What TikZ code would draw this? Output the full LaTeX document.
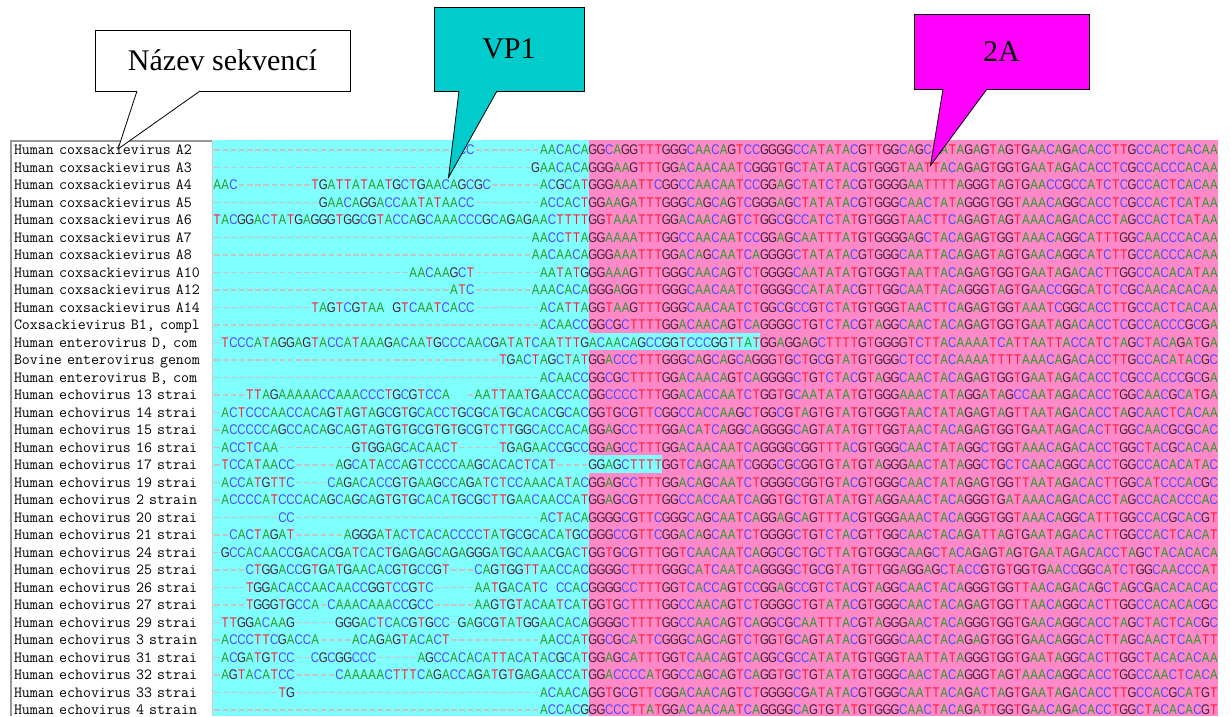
\documentclass[tikz,border=0pt]{standalone}
\usepackage{fontspec}
\usepackage{xcolor}
\usetikzlibrary{matrix}
\setmainfont{Liberation Serif}
\newfontfamily\namefont{Latin Modern Mono}
\newfontfamily\basefont[FakeStretch=0.82]{Liberation Sans}

\definecolor{baseA}{RGB}{40,155,40}
\definecolor{baseC}{RGB}{80,70,255}
\definecolor{baseG}{RGB}{65,30,55}
\definecolor{baseT}{RGB}{255,25,50}
\definecolor{gapgray}{RGB}{200,195,195}
\definecolor{vpback}{RGB}{128,255,255}
\definecolor{twoaback}{RGB}{255,136,200}
\definecolor{vpcall}{RGB}{0,204,204}
\definecolor{twoacall}{RGB}{255,0,255}
\definecolor{panelgray}{RGB}{150,150,150}

\newlength\cellw
\setlength\cellw{8.17pt}

\ExplSyntaxOn
\cs_new_protected:Npn \aln_cell:n #1
  {
    \makebox[\cellw][c]
      {
        \str_case:nnF {#1}
          {
            {A}{\textcolor{baseA}{A}}
            {C}{\textcolor{baseC}{C}}
            {G}{\textcolor{baseG}{G}}
            {T}{\textcolor{baseT}{T}}
            {-}{\textcolor{gapgray}{\rule[4.2pt]{5.5pt}{1.1pt}}}
          }
          {}
      }
  }
\NewDocumentCommand\alnrow{m}
  { \str_map_inline:nn {#1} { \aln_cell:n {##1} } }
\ExplSyntaxOff

\begin{document}
\begin{tikzpicture}[x=1pt, y=-1pt,
  callbox/.style={draw, line width=0.8pt, inner sep=0pt, outer sep=0pt, font=\fontsize{30}{30}\selectfont},
  pointer/.style={line width=0.8pt}]
\useasboundingbox (0,0) rectangle (1231,716);

% background of the alignment window
\fill[vpback] (213,140) rectangle (588.8,716);
\fill[twoaback] (588.8,140) rectangle (1218,716);
\fill[vpback] (588.8,332.75) rectangle +(171.6,17.5);
\fill[vpback] (588.8,455.25) rectangle +(73.5,17.5);
\draw[panelgray, line width=2pt] (11,716) -- (11,141) -- (212,141);
\draw[panelgray!50] (212,141) -- (212,716);

\matrix (aln) [matrix of nodes, anchor=north west, inner sep=0pt, outer sep=0pt,
  row sep=0pt, column sep=0pt,
  nodes={inner sep=0pt, outer sep=0pt, minimum height=17.5pt, text height=11.4pt, text depth=0pt},
  column 1/.style={nodes={anchor=west, text width=199pt, align=left, font=\namefont\fontsize{15.5}{16}\selectfont}},
  column 2/.style={nodes={anchor=east, font=\basefont\fontsize{14}{15}\selectfont}},
  column 3/.style={nodes={anchor=west, font=\basefont\fontsize{14}{15}\selectfont}}]
  at (14,140.25)
{
Human coxsackievirus A2 & \alnrow{------------------------------CC--------AACACA} & \alnrow{GGCAGGTTTGGGCAACAGTCCGGGGCCATATACGTTGGCAGCAATAGAGTAGTGAACAGACACCTTGCCACTCACAA} \\
Human coxsackievirus A3 & \alnrow{---------------------------------------GAACACA} & \alnrow{GGGAAGTTTGGACAACAATCGGGTGCTATATACGTGGGTAATTACAGAGTGGTGAATAGACACCTCGCCACCCACAA} \\
Human coxsackievirus A4 & \alnrow{AAC---------TGATTATAATGCTGAACAGCGC------ACGCAT} & \alnrow{GGGAAATTCGGCCAACAATCCGGAGCTATCTACGTGGGGAATTTTAGGGTAGTGAACCGCCATCTCGCCACTCACAA} \\
Human coxsackievirus A5 & \alnrow{-------------GAACAGGACCAATATAACC--------ACCACT} & \alnrow{GGAAGATTTGGGCAGCAGTCGGGAGCTATATACGTGGGCAACTATAGGGTGGTAAACAGGCACCTCGCCACTCATAA} \\
Human coxsackievirus A6 & \alnrow{TACGGACTATGAGGGTGGCGTACCAGCAAACCCGCAGAGAACTTTT} & \alnrow{GGTAAATTTGGACAACAGTCTGGCGCCATCTATGTGGGTAACTTCAGAGTAGTAAACAGACACCTAGCCACTCATAA} \\
Human coxsackievirus A7 & \alnrow{---------------------------------------AACCTTA} & \alnrow{GGAAAATTTGGCCAACAATCCGGAGCAATTTATGTGGGGAGCTACAGAGTGGTAAACAGGCATTTGGCAACCCACAA} \\
Human coxsackievirus A8 & \alnrow{---------------------------------------AACAACA} & \alnrow{GGGAAATTTGGACAGCAATCAGGGGCTATATACGTGGGCAATTACAGAGTAGTGAACAGGCATCTTGCCACCCACAA} \\
Human coxsackievirus A10 & \alnrow{------------------------AACAAGCT--------AATATG} & \alnrow{GGAAAGTTTGGGCAACAGTCTGGGGCAATATATGTGGGTAATTACAGAGTGGTGAATAGACACTTGGCCACACATAA} \\
Human coxsackievirus A12 & \alnrow{-----------------------------ATC-------AAACACA} & \alnrow{GGGAGGTTTGGGCAACAATCTGGGGCCATATACGTTGGCAATTACAGGGTAGTGAACCGGCATCTCGCAACACACAA} \\
Human coxsackievirus A14 & \alnrow{------------TAGTCGTAA.GTCAATCACC--------ACATTA} & \alnrow{GGTAAGTTTGGGCAACAATCTGGCGCCGTCTATGTGGGTAACTTCAGAGTGGTAAATCGGCACCTTGCCACTCACAA} \\
Coxsackievirus B1, compl & \alnrow{----------------------------------------ACAACC} & \alnrow{GGCGCTTTTGGACAACAGTCAGGGGCTGTCTACGTAGGCAACTACAGAGTGGTGAATAGACACCTCGCCACCCGCGA} \\
Human enterovirus D, com & \alnrow{-TCCCATAGGAGTACCATAAAGACAATGCCCAACGATATCAATTTG} & \alnrow{ACAACAGCCGGTCCCGGTTATGGAGGAGCTTTTGTGGGGTCTTACAAAATCATTAATTACCATCTAGCTACAGATGA} \\
Bovine enterovirus genom & \alnrow{-----------------------------------TGACTAGCTAT} & \alnrow{GGACCCTTTGGGCAGCAGCAGGGTGCTGCGTATGTGGGCTCCTACAAAATTTTAAACAGACACCTTGCCACATACGC} \\
Human enterovirus B, com & \alnrow{----------------------------------------ACAACC} & \alnrow{GGCGCTTTTGGACAACAGTCAGGGGCTGTCTACGTAGGCAACTACAGAGTGGTGAATAGACACCTCGCCACCCGCGA} \\
Human echovirus 13 strai & \alnrow{----TTAGAAAAACCAAACCCTGCGTCCA..-AATTAATGAACCAC} & \alnrow{GGCCCCTTTGGACACCAATCTGGTGCAATATATGTGGGAAACTATAGGATAGCCAATAGACACCTGGCAACGCATGA} \\
Human echovirus 14 strai & \alnrow{-ACTCCCAACCACAGTAGTAGCGTGCACCTGCGCATGCACACGCAC} & \alnrow{GGTGCGTTCGGCCACCAAGCTGGCGTAGTGTATGTGGGTAACTATAGAGTAGTTAATAGACACCTAGCAACTCACAA} \\
Human echovirus 15 strai & \alnrow{-ACCCCCAGCCACAGCAGTAGTGTGCGTGTGCGTCTTGGCACCACA} & \alnrow{GGAGCCTTTGGACATCAGGCAGGGGCAGTATATGTTGGTAACTACAGAGTGGTGAATAGACACTTGGCAACGCGCAC} \\
Human echovirus 16 strai & \alnrow{-ACCTCAA---------GTGGAGCACAACT-----TGAGAACCGCC} & \alnrow{GGAGCCTTTGGACAACAATCAGGGGCGGTTTACGTGGGCAACTATAGGCTGGTAAACAGACACCTGGCTACGCACAA} \\
Human echovirus 17 strai & \alnrow{-TCCATAACC-----AGCATACCAGTCCCCAAGCACACTCAT----} & \alnrow{GGAGCTTTTGGTCAGCAATCGGGCGCGGTGTATGTAGGGAACTATAGGCTGCTCAACAGGCACCTGGCCACACATAC} \\
Human echovirus 19 strai & \alnrow{-ACCATGTTC----CAGACACCGTGAAGCCAGATCTCCAAACATAC} & \alnrow{GGAGCCTTTGGACAGCAATCTGGGGCGGTGTACGTGGGCAACTATAGAGTGGTTAATAGACACTTGGCATCCCACGC} \\
Human echovirus 2 strain & \alnrow{-ACCCCATCCCACAGCAGCAGTGTGCACATGCGCTTGAACAACCAT} & \alnrow{GGAGCGTTTGGCCACCAATCAGGTGCTGTATATGTAGGAAACTACAGGGTGATAAACAGACACCTAGCCACACCCAC} \\
Human echovirus 20 strai & \alnrow{--------CC------------------------------ACTACA} & \alnrow{GGGGCGTTCGGGCAGCAATCAGGAGCAGTTTACGTGGGAAACTACAGGGTGGTAAACAGGCATTTGGCCACGCACGT} \\
Human echovirus 21 strai & \alnrow{--CACTAGAT------AGGGATACTCACACCCCTATGCGCACATGC} & \alnrow{GGGCCGTTCGGACAGCAATCTGGGGCTGTCTACGTTGGCAACTACAGATTAGTGAATAGACACTTGGCCACTCACAT} \\
Human echovirus 24 strai & \alnrow{-GCCACAACCGACACGATCACTGAGAGCAGAGGGATGCAAACGACT} & \alnrow{GGTGCGTTTGGTCAACAATCAGGCGCTGCTTATGTGGGCAAGCTACAGAGTAGTGAATAGACACCTAGCTACACACA} \\
Human echovirus 25 strai & \alnrow{----CTGGACCGTGATGAACACGTGCCGT---CAGTGGTTAACCAC} & \alnrow{GGGGCTTTTGGGCATCAATCAGGGGCTGCGTATGTTGGAGGAGCTACCGTGTGGTGAACCGGCATCTGGCAACCCAT} \\
Human echovirus 26 strai & \alnrow{----TGGACACCAACAACCGGTCCGTC-----AATGACATC.CCAC} & \alnrow{GGGGCCTTTGGTCACCAGTCCGGAGCCGTCTACGTAGGCAACTACAGGGTGGTTAACAGACAGCTAGCGACACACAC} \\
Human echovirus 27 strai & \alnrow{----TGGGTGCCA-CAAACAAACCGCC-----AAGTGTACAATCAT} & \alnrow{GGTGCTTTTGGCCAACAGTCTGGGGCTGTATACGTGGGCAACTACAGAGTGGTTAACAGGCACTTGGCCACACACGC} \\
Human echovirus 29 strai & \alnrow{-TTGGACAAG-----GGGACTCACGTGCC-GAGCGTATGGAACACA} & \alnrow{GGGGCTTTTGGCCAACAGTCAGGCGCAATTTACGTAGGGAACTACAGGGTGGTGAACAGGCACCTAGCTACTCACGC} \\
Human echovirus 3 strain & \alnrow{-ACCCTTCGACCA----ACAGAGTACACT-----------AACCAT} & \alnrow{GGCGCATTCGGGCAGCAGTCTGGTGCAGTATACGTGGGCAACTACAGAGTGGTGAACAGGCACTTAGCAACTCAATT} \\
Human echovirus 31 strai & \alnrow{-ACGATGTCC--CGCGGCCC-----AGCCACACATTACATACGCAT} & \alnrow{GGAGCATTTGGTCAACAGTCAGGCGCCATATATGTGGGTAATTATAGGGTGGTGAATAGGCACTTGGCTACACACAA} \\
Human echovirus 32 strai & \alnrow{-AGTACATCC-----CAAAAACTTTCAGACCAGATGTGAGAACCAT} & \alnrow{GGACCCCATGGCCAGCAGTCAGGTGCTGTATATGTGGGCAACTACAGGGTAGTAAACAGGCACCTGGCCAACTCACA} \\
Human echovirus 33 strai & \alnrow{--------TG------------------------------ACAACA} & \alnrow{GGTGCGTTCGGACAACAGTCTGGGGCGATATACGTGGGCAATTACAGACTAGTGAATAGACACCTTGCCACGCATGT} \\
Human echovirus 4 strain & \alnrow{----------------------------------------ACCACG} & \alnrow{GGCCCTTATGGACAACAATCAGGGGCAGTGTATGTGGGCAACTACAGATTGGTGAACAGACACCTGGCTACACACGT} \\
};

% callouts
\node[callbox, fill=white, minimum width=255pt, minimum height=61pt] (namebox) at (222.5,60.5) {Název sekvencí};
\node[callbox, fill=vpcall, minimum width=150pt, minimum height=84pt] (vpbox) at (509,49) {VP1};
\node[callbox, fill=twoacall, minimum width=175pt, minimum height=75pt] (twoabox) at (1001.5,51.5) {2A};
\coordinate (nametip) at (118,149);
\coordinate (vptip) at (448.5,177.5);
\coordinate (twoatip) at (930.5,165.5);

\fill[white] ([xshift=-85.5pt,yshift=1pt]namebox.south) -- ([xshift=-85.5pt]namebox.south) -- (nametip)
  -- ([xshift=-22.5pt]namebox.south) -- ([xshift=-22.5pt,yshift=1pt]namebox.south) -- cycle;
\draw[pointer] ([xshift=-85.5pt]namebox.south) -- (nametip) -- ([xshift=-22.5pt]namebox.south);

\fill[vpcall] ([xshift=-50pt,yshift=1pt]vpbox.south) -- ([xshift=-50pt]vpbox.south) -- (vptip)
  -- ([xshift=-12pt]vpbox.south) -- ([xshift=-12pt,yshift=1pt]vpbox.south) -- cycle;
\draw[pointer] ([xshift=-50pt]vpbox.south) -- (vptip) -- ([xshift=-12pt]vpbox.south);

\fill[twoacall] ([xshift=-58.5pt,yshift=1pt]twoabox.south) -- ([xshift=-58.5pt]twoabox.south) -- (twoatip)
  -- ([xshift=-14.5pt]twoabox.south) -- ([xshift=-14.5pt,yshift=1pt]twoabox.south) -- cycle;
\draw[pointer] ([xshift=-58.5pt]twoabox.south) -- (twoatip) -- ([xshift=-14.5pt]twoabox.south);
\end{tikzpicture}
\end{document}
